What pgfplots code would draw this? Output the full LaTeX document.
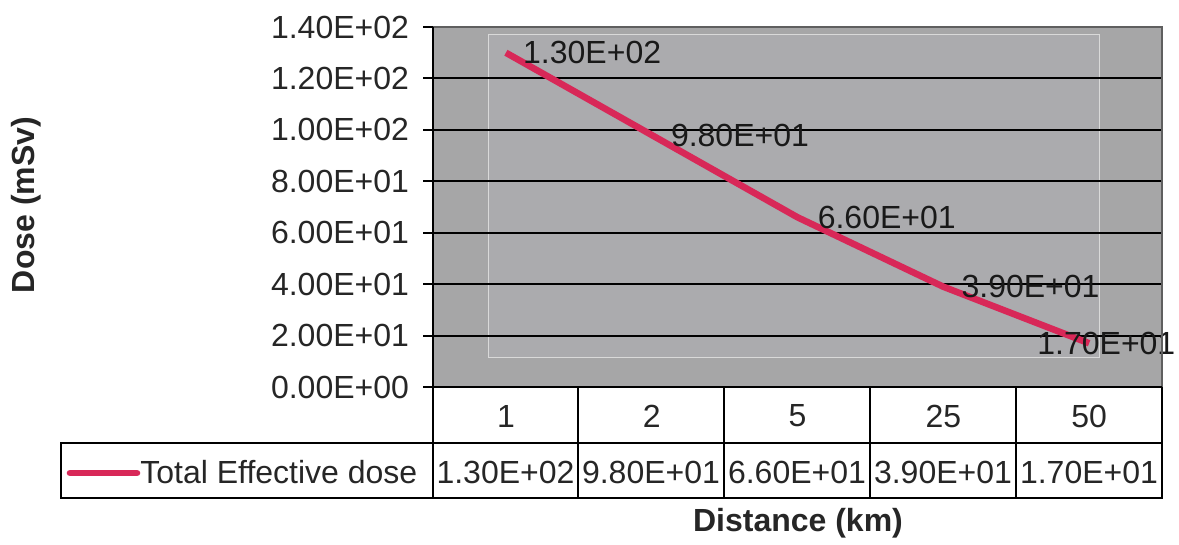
\documentclass[border=0pt]{standalone}
\usepackage{pgfplots}
\pgfplotsset{compat=1.18}
\usepackage{pgfplotstable}
\usepackage{fontspec}
\setmainfont{Liberation Sans}
\definecolor{outergray}{RGB}{166,166,167}
\definecolor{innergray}{RGB}{171,171,174}
\definecolor{dosered}{RGB}{216,40,88}
\definecolor{bordergray}{RGB}{95,95,95}

\pgfplotstableread{
x y label dx
0 130 1.30E+02 7
1 98 9.80E+01 8
2 66 6.60E+01 8.5
3 39 3.90E+01 7.5
4 17 1.70E+01 -27.5
}\dosedata

\newcommand{\tf}{\fontsize{16}{19}\selectfont}

\begin{document}
\begin{tikzpicture}
\useasboundingbox (0,0) rectangle (589.5pt,-272.5pt);
\begin{scope}[x=0.5pt,y=-0.5pt]
\fill[outergray] (433,27) rectangle (1162,387);
\filldraw[fill=innergray, draw=white!70!gray, line width=0.3pt] (488,34) rectangle (1099,357);
\end{scope}
\begin{axis}[
  at={(216.5pt,-193.5pt)}, anchor=south west,
  scale only axis, width=364.5pt, height=180pt,
  xmin=-0.5, xmax=4.5, ymin=0, ymax=140,
  axis line style={draw=none},
  xtick={0,1,2,3,4}, xticklabels={1,2,5,25,50},
  xtick style={draw=none},
  xticklabel style={anchor=center, font=\tf, text=black!85, yshift=-9.5pt},
  ytick={0,20,...,140},
  yticklabels={0.00E+00,2.00E+01,4.00E+01,6.00E+01,8.00E+01,1.00E+02,1.20E+02,1.40E+02},
  ytick pos=left, tick align=outside, major tick length=5pt,
  ytick style={draw=black, line width=1pt},
  yticklabel style={font=\tf, anchor=east, text=black!85, xshift=-3.5pt},
  ymajorgrids, major grid style={black, line width=1pt},
  clip=false,
]
\addplot[dosered, line width=3.3pt, nodes near coords, point meta=explicit symbolic,
  visualization depends on={\thisrow{dx}\as\dx},
  every node near coord/.append style={anchor=west, xshift=\dx pt, inner sep=0pt, font=\tf, text=black!90}]
  table[x=x, y=y, meta=label]{\dosedata};
\end{axis}
\begin{scope}[x=0.5pt,y=-0.5pt]
% plot area borders
\draw[bordergray, line width=0.9pt] (433,27) -- (1162,27) -- (1162,387);
\draw[black, line width=1pt] (433,27) -- (433,387);
% data table
\draw[black, line width=1pt] (433,387) -- (1162,387);
\draw[black, line width=1pt] (61,443) rectangle (1162,498);
\foreach \xx in {433,578,724,870,1016,1162} {\draw[black, line width=1pt] (\xx,387) -- (\xx,498);}
\draw[dosered, line width=3.3pt, line cap=round] (70,473) -- (137,473);
\node[anchor=west, inner sep=0pt, font=\tf, text=black!85] at (140,472) {Total Effective dose};
\node[font=\tf, inner sep=0pt, text=black!85] at (505.5,472) {1.30E+02};
\node[font=\tf, inner sep=0pt, text=black!85] at (651,472) {9.80E+01};
\node[font=\tf, inner sep=0pt, text=black!85] at (797,472) {6.60E+01};
\node[font=\tf, inner sep=0pt, text=black!85] at (943,472) {3.90E+01};
\node[font=\tf, inner sep=0pt, text=black!85] at (1089,472) {1.70E+01};
% axis titles
\node[rotate=90, font=\fontsize{16}{19}\selectfont\bfseries, text=black!85] at (26,205) {Dose (mSv)};
\node[font=\fontsize{16}{19}\selectfont\bfseries, text=black!85] at (798,523) {Distance (km)};
\end{scope}
\end{tikzpicture}
\end{document}
